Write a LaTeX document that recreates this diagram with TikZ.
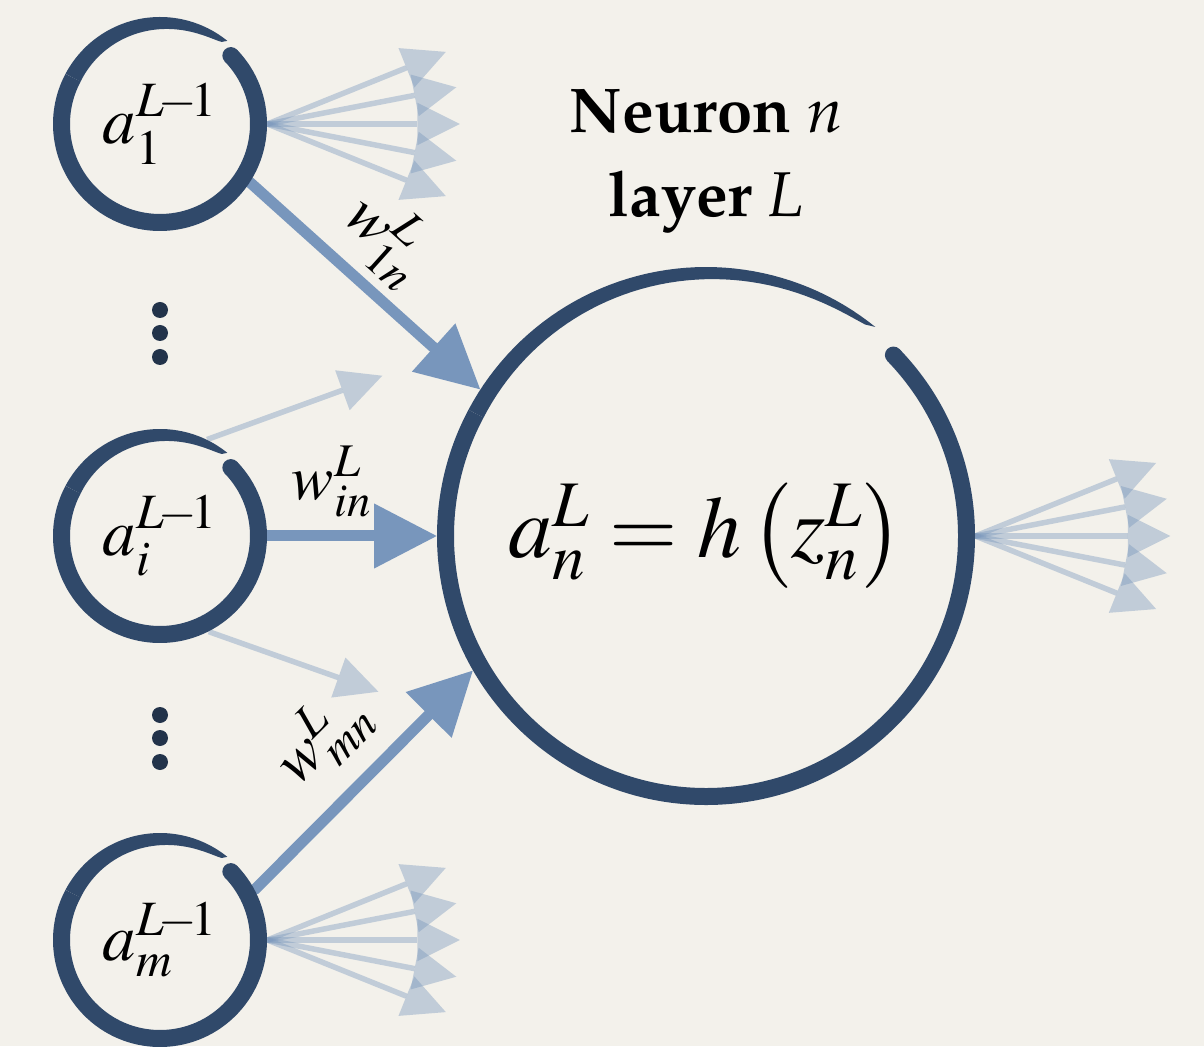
\documentclass[tikz,border=0pt]{standalone}
\usepackage[T1]{fontenc}
\usepackage{mathptmx}
\usepackage{tikz}
\usetikzlibrary{arrows.meta, positioning, calc}
\definecolor{tinta}{HTML}{30496A}
\definecolor{acero}{HTML}{7896BC}
\definecolor{papel}{HTML}{F3F1EB}

% brush circle round a node: node, outer radius, stroke width (cm)
\newcommand{\ensocirc}[3]{%
  \begin{scope}[shift={(#1.center)}]
    \draw[tinta, line width=#3cm] (44:{#2-#3/2})
      arc[start angle=44, end angle=-208, radius={#2-#3/2}];
    \fill[tinta] (44:{#2-#3/2}) circle ({#3/2});
    \fill[tinta] plot[domain=152:51, samples=50] (\x:#2)
      -- plot[domain=51:152, samples=50] (\x:{#2-#3*(abs((\x-51)/101))^0.35})
      -- cycle;
  \end{scope}
}

\begin{document}
\begin{tikzpicture}[
  unit/.style={circle, minimum size=4.28cm, inner sep=0pt,
    font=\fontsize{38}{46}\selectfont},
  neuron/.style={circle, minimum size=10.76cm, inner sep=0pt,
    font=\fontsize{50}{60}\selectfont},
  ttl/.style={font=\fontfamily{ppl}\fontsize{36}{48}\selectfont, inner sep=0pt},
  wlab/.style={font=\fontsize{36}{42}\selectfont, inner sep=0pt, text=black},
  mainarr/.style={-{Triangle[length=1.25cm, width=1.3cm, line width=0pt]},
    acero, line width=0.22cm, line cap=round},
  fanarr/.style={-{Triangle[length=0.85cm, width=0.85cm, line width=0pt]},
    acero, opacity=0.4, line width=0.11cm}
]
  \path[use as bounding box, fill=papel] (0,0) rectangle (24.08,20.92);

  % units of layer L-1 and neuron n
  \node[unit] (a1) at (3.2,18.44) {$a_1^{L\!-\!1}$};
  \node[unit] (ai) at (3.2,10.2) {$a_i^{L\!-\!1}$};
  \node[unit] (am) at (3.2,2.12) {$a_m^{L\!-\!1}$};
  \node[neuron] (an) at (14.12,10.2) {$a_n^L = h\left(z_n^L\right)$};

  \node[ttl, anchor=base] (ttl1) at (14.12,18.26) {\textbf{Neuron} \textit{n}};
  \node[ttl, anchor=base] (ttl2) at (14.12,16.58) {\textbf{layer} \textit{L}};

  \foreach \y in {14.72,14.26,13.78,6.62,6.16,5.68}
    \fill[tinta!70!black] (3.2,\y) circle (0.16);

  % weights into n
  \draw[mainarr] (a1.-33) -- (an.147)
    node[wlab, pos=0.45, sloped, above=0.18cm] (w1n) {$w^L_{1n}$};
  \draw[mainarr] (ai) -- (an)
    node[wlab, pos=0.38, above=0.26cm] (win) {$w^L_{in}$};
  \draw[mainarr] (am.28) -- (an.210)
    node[wlab, pos=0.5, sloped, above=0.4cm] (wmn) {$w^L_{mn}$};

  % faint connections
  \path (ai.64) ++(20:3.73) coordinate (iup);
  \path (ai.-63) ++(-19.5:3.6) coordinate (idn);
  \draw[fanarr] (ai.64) -- (iup);
  \draw[fanarr] (ai.-63) -- (idn);

  \foreach \ang [count=\k] in {22,11,0,-11,-22} {
    \path (a1.east) ++(\ang:3.85) coordinate (f1\k);
    \path (am.east) ++(\ang:3.85) coordinate (fm\k);
    \path (an.east) ++(\ang:3.9) coordinate (fn\k);
    \draw[fanarr] (a1.east) -- (f1\k);
    \draw[fanarr] (am.east) -- (fm\k);
    \draw[fanarr] (an.east) -- (fn\k);
  }

  \ensocirc{a1}{2.14}{0.34}
  \ensocirc{ai}{2.14}{0.34}
  \ensocirc{am}{2.14}{0.34}
  \ensocirc{an}{5.38}{0.34}
\end{tikzpicture}
\end{document}
